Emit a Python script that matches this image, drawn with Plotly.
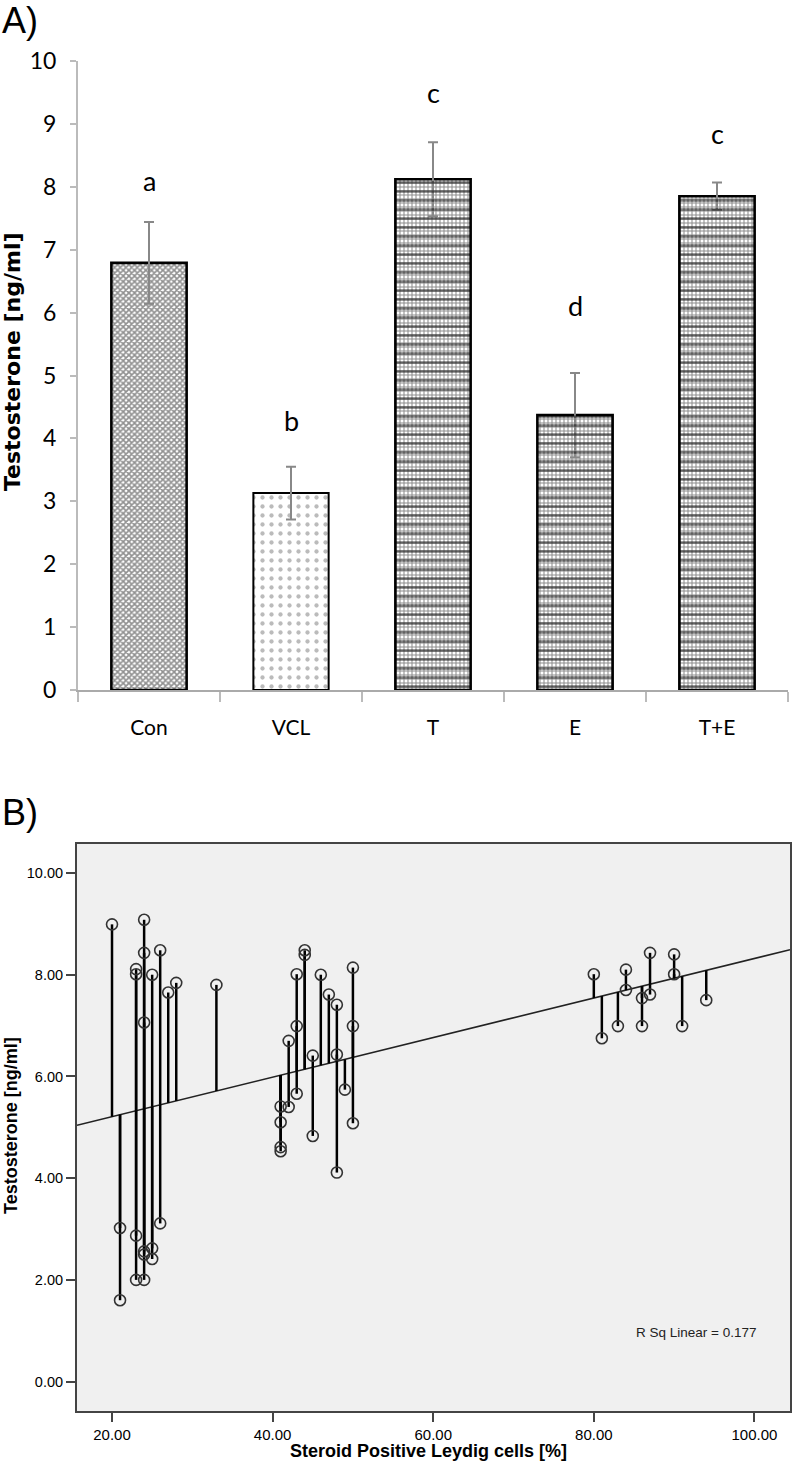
import numpy as np
import plotly.graph_objects as go

# ---------------- Data: panel A ----------------
groups = ["Con", "VCL", "T", "E", "T+E"]
means = [6.79, 3.13, 8.12, 4.37, 7.85]
errors = [0.65, 0.42, 0.59, 0.67, 0.22]
letters = ["a", "b", "c", "d", "c"]
letter_y = [8.10, 4.29, 9.50, 6.12, 8.85]

# ---------------- Data: panel B ----------------
leydig_pct = [20,
              21, 21,
              23, 23, 23, 23,
              24, 24, 24, 24, 24, 24,
              25, 25, 25,
              26, 26,
              27, 28, 33,
              41, 41, 41, 41,
              42, 42,
              43, 43, 43,
              44, 44,
              45, 45,
              46, 47,
              48, 48, 48,
              49,
              50, 50, 50,
              80, 81, 83,
              84, 84,
              86, 86,
              87, 87,
              90, 90,
              91, 94]
testosterone = [8.99,
                3.02, 1.60,
                8.11, 8.01, 2.87, 2.00,
                9.08, 8.43, 7.06, 2.56, 2.50, 2.00,
                8.00, 2.62, 2.41,
                8.48, 3.11,
                7.65, 7.84, 7.80,
                5.41, 5.10, 4.61, 4.53,
                6.70, 5.40,
                8.01, 6.99, 5.66,
                8.48, 8.39,
                6.41, 4.83,
                8.00, 7.61,
                7.41, 6.43, 4.11,
                5.74,
                8.14, 6.99, 5.08,
                8.01, 6.75, 6.99,
                8.10, 7.70,
                7.54, 6.99,
                8.43, 7.61,
                8.40, 8.01,
                6.99, 7.50]
# fitted line: [intercept, slope]
fit_line = [4.43, 0.0389]
r_sq_label = "R Sq Linear = 0.177"

W, H = 792, 1474
CAL = "Lato, Carlito, Calibri, sans-serif"
ARIAL = "Liberation Sans, Arial, sans-serif"

def fy(p):
    return 1 - p / H

fig = go.Figure()

# ---- Panel A bars ----
fig.add_trace(go.Bar(
    x=groups, y=means, xaxis="x", yaxis="y", width=0.53,
    marker=dict(
        color="white",
        line=dict(color="black", width=[2.6, 2.0, 2.6, 2.6, 2.6]),
        pattern=dict(
            shape=["x", ".", "+", "+", "+"],
            size=[4, 9, 4, 4, 4],
            solidity=[0.65, 0.18, 0.45, 0.45, 0.45],
            fgcolor=["#222", "#777", "#1a1a1a", "#1a1a1a", "#1a1a1a"],
            bgcolor="white",
        ),
    ),
    error_y=dict(type="data", array=errors, visible=True,
                 color="#888", thickness=2, width=5),
    showlegend=False, hoverinfo="skip",
))
# horizontal stripes overlay on T, E, T+E
stripe_on = [0, 0, 1, 1, 1]
fig.add_trace(go.Bar(
    x=groups, y=[m if s else 0 for m, s in zip(means, stripe_on)],
    xaxis="x", yaxis="y", width=0.53,
    marker=dict(
        color="rgba(0,0,0,0)",
        line=dict(color="black", width=0),
        pattern=dict(shape="-", size=9, solidity=0.28,
                     fgcolor="black", bgcolor="rgba(0,0,0,0)"),
    ),
    showlegend=False, hoverinfo="skip",
))

for g, t, ly in zip(groups, letters, letter_y):
    fig.add_annotation(x=g, y=ly, xref="x", yref="y", text=t,
                       showarrow=False,
                       font=dict(family=CAL, size=27, color="black"))

# ---- Panel B ----
x_arr = np.array(leydig_pct, dtype=float)
y_arr = np.array(testosterone, dtype=float)
intercept, slope = fit_line

xr_b = [15.64, 104.43]
fig.add_trace(go.Scatter(
    x=xr_b, y=[intercept + slope * v for v in xr_b],
    xaxis="x2", yaxis="y2", mode="lines",
    line=dict(color="#222", width=1.6),
    showlegend=False, hoverinfo="skip",
))
drop_x, drop_y = [], []
for xv, yv in zip(x_arr, y_arr):
    drop_x += [xv, xv, None]
    drop_y += [yv, intercept + slope * xv, None]
fig.add_trace(go.Scatter(
    x=drop_x, y=drop_y, xaxis="x2", yaxis="y2", mode="lines",
    line=dict(color="black", width=2.5),
    showlegend=False, hoverinfo="skip",
))
fig.add_trace(go.Scatter(
    x=x_arr, y=y_arr, xaxis="x2", yaxis="y2", mode="markers",
    marker=dict(symbol="circle-open", size=11, color="#333",
                line=dict(width=1.6, color="#333")),
    showlegend=False, hoverinfo="skip",
))

fig.add_annotation(x=758 / W, y=fy(1332), xref="paper", yref="paper",
                   xanchor="right", yanchor="middle", showarrow=False,
                   text=r_sq_label, font=dict(family=ARIAL, size=13.5, color="#222"))

# panel labels
fig.add_annotation(x=0.0, y=fy(20), xref="paper", yref="paper",
                   xanchor="left", yanchor="middle", showarrow=False,
                   text="A)", font=dict(family=ARIAL, size=36, color="black"))
fig.add_annotation(x=0.0, y=fy(812), xref="paper", yref="paper",
                   xanchor="left", yanchor="middle", showarrow=False,
                   text="B)", font=dict(family=ARIAL, size=36, color="black"))

# axis titles
fig.add_annotation(x=12 / W, y=fy(362), xref="paper", yref="paper",
                   xanchor="center", yanchor="middle", showarrow=False,
                   textangle=-90, text="<b>Testosterone [ng/ml]</b>",
                   font=dict(family="DejaVu Sans, Verdana", size=22, color="black"))
fig.add_annotation(x=11 / W, y=fy(1126), xref="paper", yref="paper",
                   xanchor="center", yanchor="middle", showarrow=False,
                   textangle=-90, text="<b>Testosterone [ng/ml]</b>",
                   font=dict(family=ARIAL, size=18, color="black"))
fig.add_annotation(x=429 / W, y=fy(1451), xref="paper", yref="paper",
                   xanchor="center", yanchor="middle", showarrow=False,
                   text="<b>Steroid Positive Leydig cells [%]</b>",
                   font=dict(family=ARIAL, size=18, color="black"))

fig.update_layout(
    width=W, height=H,
    margin=dict(l=0, r=0, t=0, b=0),
    paper_bgcolor="white",
    plot_bgcolor="white",
    barmode="overlay",
    xaxis=dict(
        domain=[78 / W, 788 / W], anchor="y", automargin=False,
        type="category", range=[-0.5, 4.5],
        showline=True, linecolor="#aaa", linewidth=2,
        ticks="outside", tickson="boundaries", ticklen=10, tickcolor="#bbb", tickwidth=2,
        ticklabelstandoff=18,
        tickfont=dict(family=CAL, size=21, color="black"),
        showgrid=False, zeroline=False, fixedrange=True,
    ),
    yaxis=dict(
        domain=[fy(690), fy(61)], anchor="x", automargin=False,
        range=[0, 10], dtick=1,
        showline=True, linecolor="#bbb", linewidth=2,
        ticks="outside", ticklen=6, tickcolor="#bbb", tickwidth=2,
        ticklabelstandoff=9,
        tickfont=dict(family=CAL, size=23, color="black"),
        showgrid=False, zeroline=False, fixedrange=True,
    ),
    xaxis2=dict(
        domain=[77 / W, 790 / W], anchor="y2", automargin=False,
        range=xr_b, tickvals=[20, 40, 60, 80, 100],
        ticktext=["20.00", "40.00", "60.00", "80.00", "100.00"],
        showline=True, mirror=True, linecolor="#444", linewidth=2,
        ticks="outside", ticklen=9, tickcolor="#444", tickwidth=2,
        tickfont=dict(family=ARIAL, size=15, color="black"),
        showgrid=False, zeroline=False, fixedrange=True,
    ),
    yaxis2=dict(
        domain=[fy(1411), fy(844)], anchor="x2", automargin=False,
        range=[-0.578, 10.57], tickvals=[0, 2, 4, 6, 8, 10],
        ticktext=["0.00", "2.00", "4.00", "6.00", "8.00", "10.00"],
        showline=True, mirror=True, linecolor="#444", linewidth=2,
        ticks="outside", ticklen=9, tickcolor="#444", tickwidth=2,
        tickfont=dict(family=ARIAL, size=14.5, color="black"),
        showgrid=False, zeroline=False, fixedrange=True,
    ),
)
fig.update_layout(shapes=[dict(type="rect", xref="x2 domain", yref="y2 domain",
                               x0=0, x1=1, y0=0, y1=1, fillcolor="#f0f0f0",
                               line=dict(width=0), layer="below")])

fig.write_html("out.html",
               config={"displayModeBar": False, "staticPlot": True},
               post_script="document.body.style.margin='0px';document.body.style.overflow='hidden';")
